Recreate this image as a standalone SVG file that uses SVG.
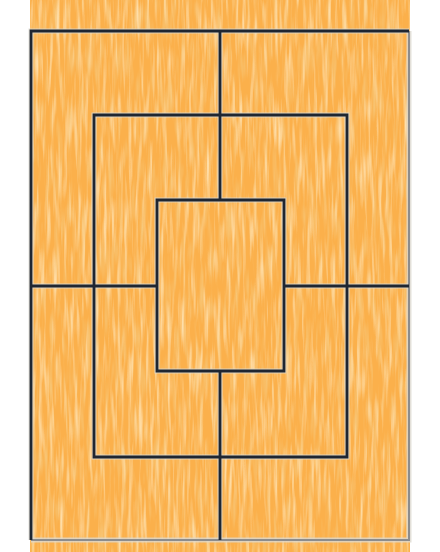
<svg xmlns="http://www.w3.org/2000/svg" width="440" height="552" viewBox="0 0 440 552">
<defs>
<filter id="grain" x="0" y="0" width="100%" height="100%">
<feTurbulence type="fractalNoise" baseFrequency="0.28 0.02" numOctaves="2" seed="7"/>
<feColorMatrix type="matrix" values="0 0 0 0 1  0 0 0 0 0.8  0 0 0 0 0.5  2.2 0 0 0 -1.05"/>
</filter>
<filter id="grain2" x="0" y="0" width="100%" height="100%">
<feTurbulence type="fractalNoise" baseFrequency="0.22 0.025" numOctaves="2" seed="21"/>
<feColorMatrix type="matrix" values="0 0 0 0 0.93  0 0 0 0 0.6  0 0 0 0 0.22  2 0 0 0 -0.95"/>
</filter>
<path id="inner-lines" d="M94 115H347V457H94Z M157 200H284V371H157Z M220 31V200 M220 371V540 M31 286H157 M284 286H409 M31 540V31H409"/>
<path id="outer-edge" d="M409 31V540H31"/>
</defs>
<style>
.halo{fill:none;stroke:#dcd8cf;stroke-width:5;stroke-opacity:0.8}
.ink{fill:none;stroke:#1f2631;stroke-width:2.8}
.edge{fill:none;stroke:#8c8c8c;stroke-width:2}
</style>
<g id="wood">
<rect x="30" y="0" width="380" height="552" fill="#fbb04b"/>
<rect x="30" y="0" width="380" height="552" filter="url(#grain2)"/>
<rect x="30" y="0" width="380" height="552" filter="url(#grain)"/>
</g>
<g id="board-lines">
<use href="#outer-edge" class="halo"/>
<use href="#inner-lines" class="halo"/>
<use href="#outer-edge" class="edge"/>
<use href="#inner-lines" class="ink"/>
</g>
</svg>
